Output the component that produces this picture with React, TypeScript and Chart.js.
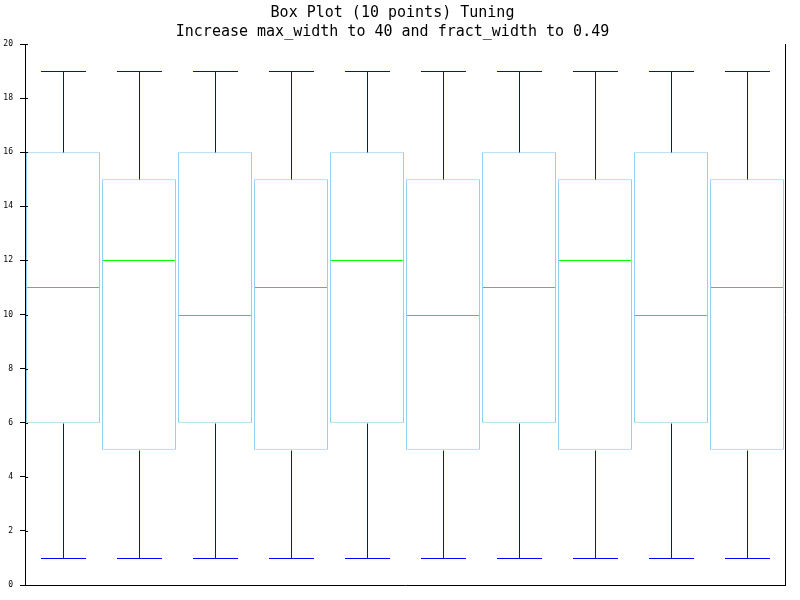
import React, { useEffect, useRef } from 'react';
import { Chart, registerables } from 'chart.js';

Chart.register(...registerables);

const categories = ['1', '2', '3', '4', '5', '6', '7', '8', '9', '10'];
const whiskerLow = [1, 1, 1, 1, 1, 1, 1, 1, 1, 1];
const q1 = [6, 5, 6, 5, 6, 5, 6, 5, 6, 5];
const median = [11, 12, 10, 11, 12, 10, 11, 12, 10, 11];
const q3 = [16, 15, 16, 15, 16, 15, 16, 15, 16, 15];
const whiskerHigh = [19, 19, 19, 19, 19, 19, 19, 19, 19, 19];
const titleLines = ['Box Plot (10 points) Tuning', 'Increase max_width to 40 and fract_width to 0.49'];

const boxPlugin = {
  id: 'boxExtras',
  afterDatasetsDraw(chart: any) {
    const ctx = chart.ctx;
    const xs = chart.scales.x;
    const ys = chart.scales.y;
    const area = chart.chartArea;
    const slot = (area.right - area.left) / categories.length;
    const capHalf = slot * 0.3;
    ctx.save();
    ctx.lineWidth = 1;
    categories.forEach((_, i) => {
      const x = Math.round(xs.getPixelForValue(i)) + 0.5;
      const yHi = Math.round(ys.getPixelForValue(whiskerHigh[i])) + 0.5;
      const yLo = Math.round(ys.getPixelForValue(whiskerLow[i])) + 0.5;
      const yQ1 = Math.round(ys.getPixelForValue(q1[i])) + 0.5;
      const yQ3 = Math.round(ys.getPixelForValue(q3[i])) + 0.5;
      const yMed = Math.round(ys.getPixelForValue(median[i])) + 0.5;
      ctx.strokeStyle = '#0000ff';
      ctx.beginPath();
      ctx.moveTo(x, yHi); ctx.lineTo(x, yQ3);
      ctx.moveTo(x, yQ1); ctx.lineTo(x, yLo);
      ctx.moveTo(Math.round(x - capHalf), yHi); ctx.lineTo(Math.round(x + capHalf), yHi);
      ctx.moveTo(Math.round(x - capHalf), yLo); ctx.lineTo(Math.round(x + capHalf), yLo);
      ctx.stroke();
      const meta = chart.getDatasetMeta(0);
      const bar = meta.data[i];
      const half = bar.width / 2;
      ctx.strokeStyle = '#00ff00';
      ctx.beginPath();
      ctx.moveTo(Math.round(bar.x - half) + 1, yMed);
      ctx.lineTo(Math.round(bar.x + half) - 1, yMed);
      ctx.stroke();
    });
    // right border
    ctx.strokeStyle = '#000000';
    ctx.beginPath();
    ctx.moveTo(Math.round(area.right) + 0.5, area.top);
    ctx.lineTo(Math.round(area.right) + 0.5, area.bottom);
    ctx.stroke();
    // small inner tick marks
    ys.ticks.forEach((t: any) => {
      const y = Math.round(ys.getPixelForValue(t.value)) + 0.5;
      ctx.beginPath();
      ctx.moveTo(area.left, y);
      ctx.lineTo(area.left + 3, y);
      ctx.stroke();
    });
    ctx.restore();
  },
};

export default function App() {
  const ref = useRef<HTMLCanvasElement>(null);
  useEffect(() => {
    if (!ref.current) return;
    const chart = new Chart(ref.current, {
      type: 'bar',
      data: {
        labels: categories,
        datasets: [
          {
            data: q1.map((v, i) => [v, q3[i]]) as any,
            backgroundColor: '#ffffff',
            borderColor: '#87ceeb',
            borderWidth: 1,
            borderSkipped: false,
            categoryPercentage: 1,
            barPercentage: 0.975,
          },
        ],
      },
      options: {
        animation: false,
        responsive: true,
        maintainAspectRatio: false,
        layout: { padding: { left: 0, right: 15, top: 0, bottom: 15 } },
        plugins: {
          legend: { display: false },
          tooltip: { enabled: false },
          title: {
            display: true,
            text: titleLines,
            color: '#000000',
            font: { family: 'DejaVu Sans Mono', size: 15, weight: 'normal', lineHeight: 19 / 15 },
            padding: { top: 4, bottom: 2 },
          },
        },
        scales: {
          x: {
            type: 'category',
            offset: true,
            ticks: { display: false },
            grid: { display: false, drawTicks: false },
            border: { display: true, color: '#000000', width: 1 },
            afterFit: (s: any) => { s.height = 0; },
          },
          y: {
            min: 0,
            max: 20,
            ticks: {
              stepSize: 2,
              color: '#000000',
              padding: 7,
              font: { family: 'DejaVu Sans Mono', size: 8 },
            },
            grid: { display: true, drawOnChartArea: false, tickLength: 5, color: '#000000' },
            border: { display: true, color: '#000000', width: 1 },
            afterFit: (s: any) => { s.width = 25; },
          },
        },
      },
      plugins: [boxPlugin],
    });
    return () => chart.destroy();
  }, []);
  return (
    <div style={{ position: 'fixed', left: 0, top: 0, width: 800, height: 600, background: '#ffffff' }}>
      <canvas ref={ref} />
    </div>
  );
}
